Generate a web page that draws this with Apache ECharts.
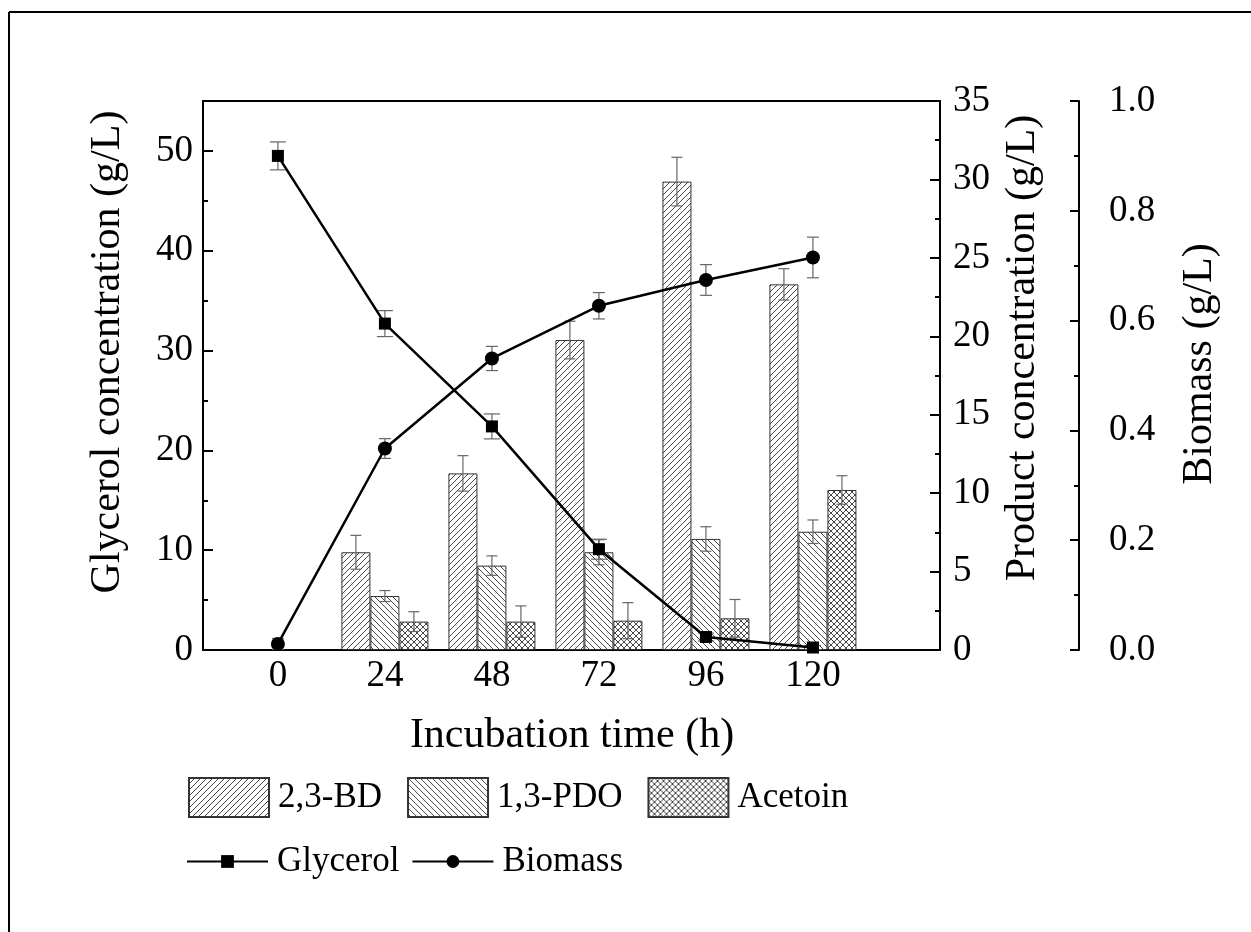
<!DOCTYPE html>
<html><head><meta charset="utf-8">
<script src="https://cdn.jsdelivr.net/npm/echarts@6/dist/echarts.min.js"></script>
<style>html,body{margin:0;padding:0;background:#fff}#c{width:1251px;height:932px}</style>
</head><body><div id="c"></div>
<script>
// ---- data ----
const times = [0, 24, 48, 72, 96, 120];
const glycerol = [49.5, 32.7, 22.4, 10.1, 1.3, 0.25];
const glycerolErr = [1.4, 1.3, 1.25, 1.0, 0.4, 0.2];
const biomass = [0.011, 0.367, 0.531, 0.627, 0.674, 0.715];
const biomassErr = [0.01, 0.018, 0.022, 0.024, 0.028, 0.037];
const barTimes = [24, 48, 72, 96, 120];
const bd = [6.23, 11.26, 19.76, 29.86, 23.31];
const bdErr = [1.08, 1.13, 1.2, 1.55, 1.0];
const pdo = [3.44, 5.38, 6.23, 7.08, 7.54];
const pdoErr = [0.35, 0.62, 0.8, 0.78, 0.75];
const acetoin = [1.81, 1.81, 1.87, 2.02, 10.2];
const acetoinErr = [0.63, 1.0, 1.15, 1.2, 0.91];
const xTicks = [0, 24, 48, 72, 96, 120];
const glyTicks = [0, 10, 20, 30, 40, 50];

const FF = 'Liberation Serif';
const BW = 29;

function hatch(kind) {
  const s = 6, c = document.createElement('canvas');
  c.width = s; c.height = s;
  const g = c.getContext('2d');
  g.fillStyle = '#fff'; g.fillRect(0, 0, s, s);
  g.strokeStyle = '#333'; g.lineWidth = 0.9;
  g.beginPath();
  if (kind === '/' || kind === 'x') {
    g.moveTo(-1, s + 1); g.lineTo(s + 1, -1);
    g.moveTo(-1, 1); g.lineTo(1, -1);
    g.moveTo(s - 1, s + 1); g.lineTo(s + 1, s - 1);
  }
  if (kind === '\\' || kind === 'x') {
    g.moveTo(-1, -1); g.lineTo(s + 1, s + 1);
    g.moveTo(s - 1, -1); g.lineTo(s + 1, 1);
    g.moveTo(-1, s - 1); g.lineTo(1, s + 1);
  }
  g.stroke();
  return { image: c, repeat: 'repeat' };
}

function errSeries(name, xs, ys, es, yIdx, offset, cap, z) {
  return {
    type: 'custom', name: name, yAxisIndex: yIdx, z: z, silent: true,
    data: xs.map((x, i) => [x, ys[i], es[i]]),
    encode: { x: 0, y: 1 },
    renderItem: (params, api) => {
      const x = api.value(0), y = api.value(1), e = api.value(2);
      const hi = api.coord([x, y + e]), lo = api.coord([x, y - e]);
      const cx = hi[0] + offset;
      const st = { stroke: '#666', lineWidth: 1.2 };
      return { type: 'group', children: [
        { type: 'line', shape: { x1: cx, y1: hi[1], x2: cx, y2: lo[1] }, style: st },
        { type: 'line', shape: { x1: cx - cap, y1: hi[1], x2: cx + cap, y2: hi[1] }, style: st },
        { type: 'line', shape: { x1: cx - cap, y1: lo[1], x2: cx + cap, y2: lo[1] }, style: st }
      ]};
    }
  };
}

const labelStyle = { fontSize: 37, fontFamily: FF, color: '#000' };
const axisLine = { show: true, onZero: false, lineStyle: { color: '#000', width: 2 } };
const barStyle = (k) => ({ color: hatch(k), borderColor: '#333', borderWidth: 1 });

const chart = echarts.init(document.getElementById('c'), null, { renderer: 'canvas' });
chart.setOption({
  animation: false,
  backgroundColor: '#fff',
  grid: { left: 203, right: 311, top: 101, bottom: 282, show: false },
  xAxis: [
    { type: 'value', min: -16.8, max: 148.5, axisLine: axisLine, axisTick: { show: false },
      splitLine: { show: false },
      axisLabel: Object.assign({ customValues: xTicks, margin: 8 }, labelStyle) },
    { type: 'value', position: 'top', min: -16.8, max: 148.5, axisLine: axisLine,
      axisTick: { show: false }, axisLabel: { show: false }, splitLine: { show: false } }
  ],
  yAxis: [
    { type: 'value', position: 'left', min: 0, max: 55, interval: 10, axisLine: axisLine,
      axisTick: { inside: true, length: 10, customValues: glyTicks, lineStyle: { color: '#000', width: 2 } },
      axisLabel: Object.assign({ customValues: glyTicks, margin: 10 }, labelStyle),
      splitLine: { show: false } },
    { type: 'value', position: 'left', min: 0, max: 55, interval: 5, axisLine: { show: false, onZero: false },
      axisTick: { inside: true, length: 5, lineStyle: { color: '#000', width: 2 } },
      axisLabel: { show: false }, splitLine: { show: false } },
    { type: 'value', position: 'right', min: 0, max: 35, interval: 5, axisLine: axisLine,
      axisTick: { inside: true, length: 10, lineStyle: { color: '#000', width: 2 } },
      minorTick: { show: true, splitNumber: 2, length: 5, lineStyle: { color: '#000', width: 2 } },
      axisLabel: Object.assign({ margin: 13 }, labelStyle),
      splitLine: { show: false }, minorSplitLine: { show: false } },
    { type: 'value', position: 'right', offset: 139, min: 0, max: 1, interval: 0.2, axisLine: axisLine,
      axisTick: { inside: true, length: 9, lineStyle: { color: '#000', width: 2 } },
      minorTick: { show: true, splitNumber: 2, length: 5, lineStyle: { color: '#000', width: 2 } },
      axisLabel: Object.assign({ margin: 30, formatter: v => v.toFixed(1) }, labelStyle),
      splitLine: { show: false }, minorSplitLine: { show: false } }
  ],
  legend: [
    { data: ['2,3-BD', '1,3-PDO', 'Acetoin'], left: 183, top: 772, itemWidth: 80, itemHeight: 39,
      itemGap: 25, icon: 'rect', selectedMode: false,
      textStyle: { fontSize: 35, fontFamily: FF, color: '#000', padding: [0, 0, 0, 4] } },
    { data: ['Glycerol', 'Biomass'], left: 181, top: 839, itemWidth: 81, itemHeight: 16,
      itemGap: 12, selectedMode: false,
      textStyle: { fontSize: 35, fontFamily: FF, color: '#000', padding: [0, 0, 0, 4] } }
  ],
  graphic: [
    { type: 'line', shape: { x1: 9, y1: 12, x2: 1251, y2: 12 }, style: { stroke: '#000', lineWidth: 2 } },
    { type: 'line', shape: { x1: 9, y1: 12, x2: 9, y2: 932 }, style: { stroke: '#000', lineWidth: 2 } },
    { type: 'text', x: 108, y: 352, rotation: Math.PI / 2,
      style: { text: 'Glycerol concentration (g/L)', x: 0, y: 0, align: 'center', verticalAlign: 'middle', fontSize: 42, fontFamily: FF, fill: '#000' } },
    { type: 'text', x: 1023, y: 348, rotation: Math.PI / 2,
      style: { text: 'Product concentration (g/L)', x: 0, y: 0, align: 'center', verticalAlign: 'middle', fontSize: 42, fontFamily: FF, fill: '#000' } },
    { type: 'text', x: 1200, y: 364, rotation: Math.PI / 2,
      style: { text: 'Biomass (g/L)', x: 0, y: 0, align: 'center', verticalAlign: 'middle', fontSize: 42, fontFamily: FF, fill: '#000' } },
    { type: 'text', x: 572, y: 736,
      style: { text: 'Incubation time (h)', x: 0, y: 0, align: 'center', verticalAlign: 'middle', fontSize: 42, fontFamily: FF, fill: '#000' } }
  ],
  series: [
    { name: '2,3-BD', type: 'bar', yAxisIndex: 2, barWidth: BW, barGap: '0%', z: 2,
      itemStyle: barStyle('/'), data: barTimes.map((t, i) => [t, bd[i]]) },
    { name: '1,3-PDO', type: 'bar', yAxisIndex: 2, barWidth: BW, barGap: '0%', z: 2,
      itemStyle: barStyle('\\'), data: barTimes.map((t, i) => [t, pdo[i]]) },
    { name: 'Acetoin', type: 'bar', yAxisIndex: 2, barWidth: BW, barGap: '0%', z: 2,
      itemStyle: barStyle('x'), data: barTimes.map((t, i) => [t, acetoin[i]]) },
    errSeries('bdErr', barTimes, bd, bdErr, 2, -BW, 5.5, 3),
    errSeries('pdoErr', barTimes, pdo, pdoErr, 2, 0, 5.5, 3),
    errSeries('acErr', barTimes, acetoin, acetoinErr, 2, BW, 5.5, 3),
    errSeries('glyErr', times, glycerol, glycerolErr, 0, 0, 8, 4),
    errSeries('bioErr', times, biomass, biomassErr, 3, 0, 6, 4),
    { name: 'Glycerol', type: 'line', yAxisIndex: 0, z: 5, symbol: 'rect', symbolSize: 12,
      lineStyle: { color: '#000', width: 2.5 }, itemStyle: { color: '#000' },
      data: times.map((t, i) => [t, glycerol[i]]) },
    { name: 'Biomass', type: 'line', yAxisIndex: 3, z: 5, symbol: 'circle', symbolSize: 14,
      lineStyle: { color: '#000', width: 2.5 }, itemStyle: { color: '#000' },
      data: times.map((t, i) => [t, biomass[i]]) }
  ]
});
</script>
</body></html>
